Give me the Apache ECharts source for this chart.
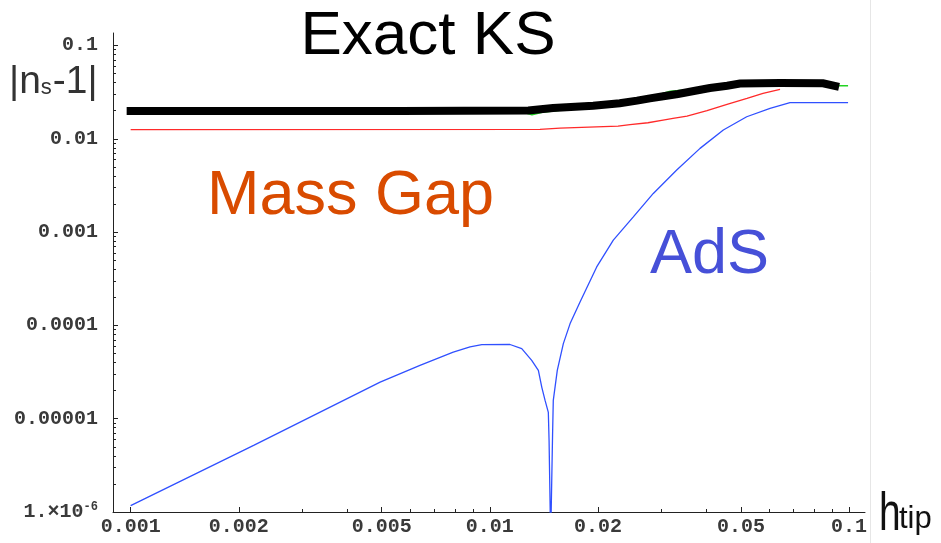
<!DOCTYPE html>
<html>
<head>
<meta charset="utf-8">
<script src="https://cdn.jsdelivr.net/npm/echarts@6/dist/echarts.min.js"></script>
<style>
  html, body { margin: 0; padding: 0; background: #fff; }
  #chart { width: 941px; height: 543px; }
</style>
</head>
<body>
<div id="chart"></div>
<script>
// |n_s - 1| against h_tip for the three warped-throat models

// Exact Klebanov-Strassler (thick black)
const exactH  = [0.001, 0.00562, 0.0128, 0.0150, 0.0194, 0.0230, 0.0257, 0.0279, 0.0304, 0.0334, 0.0373, 0.0410, 0.0458, 0.0497, 0.0643, 0.0847, 0.0915];
const exactNs = [0.0198, 0.0198, 0.0201, 0.0214, 0.0226, 0.0240, 0.0256, 0.0271, 0.0285, 0.0302, 0.0327, 0.0350, 0.0370, 0.0391, 0.0396, 0.0393, 0.0368];

// Numerical KS solution (thin green, mostly under the black curve)
const numericH  = [0.001, 0.0122, 0.0131, 0.0140, 0.0194, 0.0257, 0.0318, 0.0373, 0.0458, 0.0643, 0.0847, 0.0915, 0.0994];
const numericNs = [0.0196, 0.0196, 0.0181, 0.0192, 0.0222, 0.0254, 0.0323, 0.0340, 0.0372, 0.0394, 0.0390, 0.0370, 0.0370];

// Mass gap model (red)
const massGapH  = [0.001, 0.01379, 0.01568, 0.02275, 0.02457, 0.02756, 0.03036, 0.03236, 0.03540, 0.04024, 0.04575, 0.05200, 0.05762, 0.06427];
const massGapNs = [0.01255, 0.01262, 0.01302, 0.01368, 0.01420, 0.01485, 0.01587, 0.01655, 0.01752, 0.01997, 0.02339, 0.02713, 0.03070, 0.03389];

// AdS throat (blue), crossing zero near h_tip = 0.0148
const adsH  = [0.001, 0.00220, 0.00495, 0.00639, 0.00791, 0.00881, 0.00950, 0.01138, 0.01227, 0.01308, 0.01365, 0.01395, 0.01425, 0.01455, 0.01462, 0.01477, 0.01495, 0.01502, 0.01541, 0.01602, 0.01673, 0.01783, 0.01984, 0.02207, 0.02509, 0.02852, 0.03314, 0.03848, 0.04468, 0.05190, 0.06028, 0.06850, 0.0994];
const adsNs = [1.17e-6, 5.17e-6, 2.47e-5, 3.73e-5, 5.18e-5, 5.89e-5, 6.22e-5, 6.24e-5, 5.64e-5, 4.22e-5, 3.30e-5, 2.18e-5, 1.57e-5, 1.17e-5, 5.85e-6, 5e-7, 6.62e-6, 1.57e-5, 3.30e-5, 6.38e-5, 1.045e-4, 1.78e-4, 4.23e-4, 8.19e-4, 1.456e-3, 2.595e-3, 4.62e-3, 7.89e-3, 0.0124, 0.01722, 0.0212, 0.02434, 0.02434];

// Axis ticks
const xMajorTicks = [0.001, 0.002, 0.005, 0.01, 0.02, 0.05, 0.1];
const xTickLabels = ['0.001', '0.002', '0.005', '0.01', '0.02', '0.05', '0.1'];
const xMinorTicks = [0.003, 0.004, 0.006, 0.007, 0.008, 0.009, 0.03, 0.04, 0.06, 0.07, 0.08, 0.09];
const yMajorTicks = [1e-6, 1e-5, 1e-4, 1e-3, 1e-2, 1e-1];
const yTickLabels = ['{m|1.×10}{e|-6}', '0.00001', '0.0001', '0.001', '0.01', '0.1'];
const yMinorTicks = [];
yMajorTicks.slice(0, 5).forEach(function (d) {
  for (let k = 2; k <= 9; k++) yMinorTicks.push(+(k * d).toPrecision(3));
});

const xRange = [0.000893, 0.1108];
const yRange = [1e-6, 0.136];

function pairs(xs, ys) { return xs.map(function (x, i) { return [x, ys[i]]; }); }
function lookup(ticks, labels, v) {
  let best = 0, bd = Infinity;
  ticks.forEach(function (t, i) {
    const d = Math.abs(Math.log10(t) - Math.log10(v));
    if (d < bd) { bd = d; best = i; }
  });
  return labels[best];
}

const axisColor = '#222';
const monoFamily = '"Liberation Mono", "DejaVu Sans Mono", monospace';
const labelColor = '#3a3a3a';
const labelFont = { fontFamily: monoFamily, fontSize: 20, fontWeight: 'bold', color: labelColor };
const sans = '"Liberation Sans", Arial, sans-serif';

const chart = echarts.init(document.getElementById('chart'), null, { renderer: 'canvas' });

chart.setOption({
  animation: false,
  backgroundColor: '#fff',
  grid: { left: 113, right: 76, top: 33, bottom: 31, containLabel: false },
  xAxis: [
    {
      type: 'log', position: 'bottom', min: xRange[0], max: xRange[1],
      axisLine: { lineStyle: { color: axisColor, width: 1 } },
      axisTick: { inside: true, length: 5, customValues: xMajorTicks, lineStyle: { color: axisColor } },
      axisLabel: Object.assign({ customValues: xMajorTicks, margin: 5,
        formatter: function (v) { return lookup(xMajorTicks, xTickLabels, v); } }, labelFont),
      splitLine: { show: false }
    },
    {
      type: 'log', position: 'bottom', min: xRange[0], max: xRange[1],
      axisLine: { show: false },
      axisTick: { inside: true, length: 3, customValues: xMinorTicks, lineStyle: { color: axisColor } },
      axisLabel: { show: false },
      splitLine: { show: false }
    }
  ],
  yAxis: [
    {
      type: 'log', position: 'left', min: yRange[0], max: yRange[1],
      axisLine: { lineStyle: { color: axisColor, width: 1 } },
      axisTick: { inside: true, length: 5, customValues: yMajorTicks, lineStyle: { color: axisColor } },
      axisLabel: Object.assign({ customValues: yMajorTicks, margin: 15,
        formatter: function (v) { return lookup(yMajorTicks, yTickLabels, v); },
        rich: {
          m: { fontFamily: monoFamily, fontSize: 20, fontWeight: 'bold', color: labelColor },
          e: { fontFamily: monoFamily, fontSize: 12, fontWeight: 'bold', color: labelColor, padding: [0, 0, 10, 0] }
        } }, labelFont),
      splitLine: { show: false }
    },
    {
      type: 'log', position: 'left', min: yRange[0], max: yRange[1],
      axisLine: { show: false },
      axisTick: { inside: true, length: 3, customValues: yMinorTicks, lineStyle: { color: axisColor } },
      axisLabel: { show: false },
      splitLine: { show: false }
    }
  ],
  series: [
    {
      name: 'Numerical KS', type: 'line', xAxisIndex: 0, yAxisIndex: 0,
      data: pairs(numericH, numericNs), showSymbol: false, symbol: 'none',
      lineStyle: { color: '#22d422', width: 1.5 }, z: 2
    },
    {
      name: 'Exact KS', type: 'line', xAxisIndex: 0, yAxisIndex: 0,
      data: pairs(exactH, exactNs), showSymbol: false, symbol: 'none',
      lineStyle: { color: '#000', width: 8, cap: 'square', join: 'miter' }, z: 3
    },
    {
      name: 'Mass Gap', type: 'line', xAxisIndex: 0, yAxisIndex: 0,
      data: pairs(massGapH, massGapNs), showSymbol: false, symbol: 'none',
      lineStyle: { color: '#ff2a2a', width: 1.3 }, z: 4
    },
    {
      name: 'AdS', type: 'line', xAxisIndex: 0, yAxisIndex: 0,
      data: pairs(adsH, adsNs), showSymbol: false, symbol: 'none', clip: true,
      lineStyle: { color: '#3050ff', width: 1.3 }, z: 4
    }
  ],
  graphic: [
    { type: 'line', shape: { x1: 870.5, y1: 0, x2: 870.5, y2: 543 }, style: { stroke: '#e6e6e6', lineWidth: 1 }, silent: true },
    { type: 'text', x: 428, y: 37, style: { text: 'Exact KS', fontFamily: sans, fontSize: 62, fill: '#000', align: 'center', verticalAlign: 'middle' } },
    { type: 'text', x: 207, y: 197, style: { text: 'Mass Gap', fontFamily: sans, fontSize: 63, fill: '#d94b00', align: 'left', verticalAlign: 'middle' } },
    { type: 'text', x: 650, y: 256, style: { text: 'AdS', fontFamily: sans, fontSize: 63, fill: '#4650d8', align: 'left', verticalAlign: 'middle' } },
    { type: 'text', x: 9, y: 80, style: {
        text: '{a||n}{b|s}{a|-1|}', align: 'left', verticalAlign: 'middle',
        rich: {
          a: { fontFamily: sans, fontSize: 39, fill: '#333', verticalAlign: 'bottom', lineHeight: 44 },
          b: { fontFamily: sans, fontSize: 22, fill: '#333', verticalAlign: 'bottom', lineHeight: 44, padding: [0, 1, 3, 0] }
        } } },
    { type: 'text', x: 879, y: 515, scaleX: 0.72, style: { text: 'h', fontFamily: sans, fontSize: 54, fill: '#111', align: 'left', verticalAlign: 'middle' } },
    { type: 'text', x: 899, y: 519, style: { text: 'tip', fontFamily: sans, fontSize: 31, fill: '#111', align: 'left', verticalAlign: 'middle' } }
  ]
});
</script>
</body>
</html>
